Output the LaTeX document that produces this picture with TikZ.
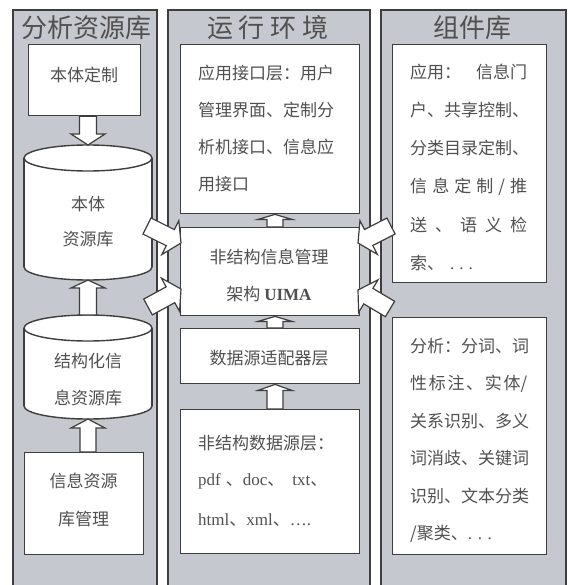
\documentclass[tikz,border=0pt]{standalone}
\usepackage{fontspec}
\setmainfont{Noto Sans CJK SC}
\newfontfamily\tnr{Liberation Serif}
\usetikzlibrary{calc}
\definecolor{panelc}{RGB}{198,200,208}
\definecolor{edgec}{RGB}{62,62,62}
\definecolor{txtc}{RGB}{80,80,80}
\tikzset{
 panel/.style={draw=edgec, line width=1.8pt, fill=panelc},
 box/.style={draw=edgec, line width=1.4pt, fill=white, inner sep=0pt, anchor=north west},
 cyl/.style={draw=edgec, line width=1.4pt, fill=white},
 ln/.style={inner sep=0pt, text height=14.5pt, text depth=2.5pt, anchor=west, font=\fontsize{17pt}{17pt}\selectfont, text=txtc},
 lnc/.style={ln, anchor=center},
 hd/.style={inner sep=0pt, text height=22pt, text depth=4pt, anchor=center, font=\fontsize{26pt}{26pt}\selectfont, text=txtc},
 barr/.style={draw=edgec, line width=1.2pt, fill=white, line join=miter},
}
% block arrow: tail, tip, shaft half width, head half width, head length
\newcommand\barrow[5]{%
  \coordinate (bt) at #1; \coordinate (bp) at #2;
  \coordinate (bb) at ($(bp)!#5!(bt)$);
  \draw[barr] ($(bt)!#3!90:(bp)$) -- ($(bb)!#3!-90:(bt)$) -- ($(bb)!#4!-90:(bt)$) -- (bp)
     -- ($(bb)!#4!90:(bt)$) -- ($(bb)!#3!90:(bt)$) -- ($(bt)!#3!-90:(bp)$) -- cycle;}
\begin{document}
\begin{tikzpicture}[x=1pt,y=-1pt]
\useasboundingbox (0,0) rectangle (571,585);
\clip (0,0) rectangle (571,585);
\fill[white] (0,0) rectangle (571,585);
% panels
\draw[panel] (13,10) rectangle (157,600);
\draw[panel] (168,10) rectangle (370,600);
\draw[panel] (381,10) rectangle (566,600);
\node[hd] (h1) at (86,29) {分析资源库};
\node[hd] (h2) at (268,29) {运\hspace{6pt}行\hspace{6pt}环\hspace{6pt}境};
\node[hd] (h3) at (472,29) {组件库};
% left column
\node[box, minimum width=112pt, minimum height=71pt] (ont) at (28,44) {};
\node[lnc] (t1) at (84,76) {本体定制};
% cylinder 1
\coordinate (c1t) at (88,145);
\coordinate (c1b) at (88,280);
\draw[cyl] (88,267) ellipse [x radius=64pt, y radius=13pt];
\fill[white] (24,158) rectangle (152,267);
\draw[draw=edgec, line width=1.4pt] (24,158) -- (24,267) (152,158) -- (152,267);
\draw[cyl] (88,158) ellipse [x radius=64pt, y radius=13pt];
\node[lnc] (t2) at (88,204) {本体};
\node[lnc] (t3) at (88,239) {资源库};
% cylinder 2
\coordinate (c2t) at (88,315);
\coordinate (c2b) at (88,419);
\draw[cyl] (88,406) ellipse [x radius=64pt, y radius=13pt];
\fill[white] (24,328) rectangle (152,406);
\draw[draw=edgec, line width=1.4pt] (24,328) -- (24,406) (152,328) -- (152,406);
\draw[cyl] (88,328) ellipse [x radius=64pt, y radius=13pt];
\node[lnc] (t4) at (88,361) {结构化信};
\node[lnc] (t5) at (88,398) {息资源库};
\node[box, minimum width=119pt, minimum height=102pt] (mgmt) at (24,452) {};
\node[lnc] (t6) at (83.5,481) {信息资源};
\node[lnc] (t7) at (83.5,519) {库管理};
% middle column
\node[box, minimum width=179pt, minimum height=169pt] (api) at (180,44) {};
\node[ln] (m1) at (198,74) {应用接口层：用户};
\node[ln] (m2) at (198,111) {管理界面、定制分};
\node[ln] (m3) at (198,148) {析机接口、信息应};
\node[ln] (m4) at (198,184) {用接口};
\node[box, minimum width=179pt, minimum height=88pt] (uima) at (180,227) {};
\node[lnc] (m5) at (269,257) {非结构信息管理};
\node[lnc] (m6) at (269,294) {架构 {\tnr\bfseries UIMA}};
\node[box, minimum width=179pt, minimum height=55pt] (adp) at (180,328) {};
\node[lnc] (m7) at (269,358) {数据源适配器层};
\node[box, minimum width=179pt, minimum height=144pt] (src) at (180,409) {};
\node[ln] (m8) at (198,443) {非结构数据源层：};
\node[ln] (m9) at (198,479) {{\tnr pdf}\hspace{5pt}、{\tnr doc}、\hspace{8pt}{\tnr txt}、};
\node[ln] (m10) at (198,519) {{\tnr html}、{\tnr xml}、{\tnr\dots.}};
% right column
\node[box, minimum width=154pt, minimum height=238pt] (app) at (392,44) {};
\node[ln] (r1) at (410,73) {\makebox[117pt][s]{应用：\hfill 信息门}};
\node[ln] (r2) at (410,111) {户、共享控制、};
\node[ln] (r3) at (410,149) {分类目录定制、};
\node[ln] (r4) at (410,187) {\makebox[117pt][s]{信\hfil 息\hfil 定\hfil 制\hfil /\hfil 推}};
\node[ln] (r5) at (410,225) {\makebox[117pt][s]{送\hfil 、\hfil 语\hfil 义\hfil 检}};
\node[ln] (r6) at (410,263) {索、\hspace{6pt}{\tnr .\hspace{5pt}.\hspace{5pt}.}};
\node[box, minimum width=154pt, minimum height=237pt] (ana) at (392,317) {};
\node[ln] (r7) at (410,346) {分析：分词、词};
\node[ln] (r8) at (410,383.5) {\makebox[117pt][s]{性\hfil 标\hfil 注\hfil 、\hfil 实\hfil 体/}};
\node[ln] (r9) at (410,421) {关系识别、多义};
\node[ln] (r10) at (410,458.5) {词消歧、关键词};
\node[ln] (r11) at (410,496) {识别、文本分类};
\node[ln] (r12) at (410,533.5) {/聚类、{\tnr . . .}};
% vertical block arrows
\coordinate (mx) at (275,0);
\barrow{(c1t |- ont.south)}{(c1t)}{8.5pt}{17pt}{11pt}
\barrow{(c2t)}{(c1b)}{8.5pt}{17pt}{8pt}
\barrow{(c2t |- mgmt.north)}{(c2b)}{8pt}{17pt}{9pt}
\barrow{(mx |- uima.north)}{(mx |- api.south)}{8pt}{17pt}{5pt}
\barrow{(mx |- adp.north)}{(mx |- uima.south)}{8pt}{17pt}{5pt}
\barrow{(mx |- src.north)}{(mx |- adp.south)}{8pt}{17pt}{6pt}
% diagonal block arrows
\coordinate (ult) at (147,226); \coordinate (ulp) at (181,243);
\coordinate (llt) at (148,307); \coordinate (llp) at (181,289);
\coordinate (urt) at (391,226); \coordinate (urp) at (358,243);
\coordinate (lrt) at (390,309); \coordinate (lrp) at (358,290);
\barrow{(ult)}{(ulp)}{9pt}{19pt}{12pt}
\barrow{(llt)}{(llp)}{9pt}{19pt}{12pt}
\barrow{(urt)}{(urp)}{9pt}{19pt}{12pt}
\barrow{(lrt)}{(lrp)}{9pt}{19pt}{12pt}
\end{tikzpicture}
\end{document}
